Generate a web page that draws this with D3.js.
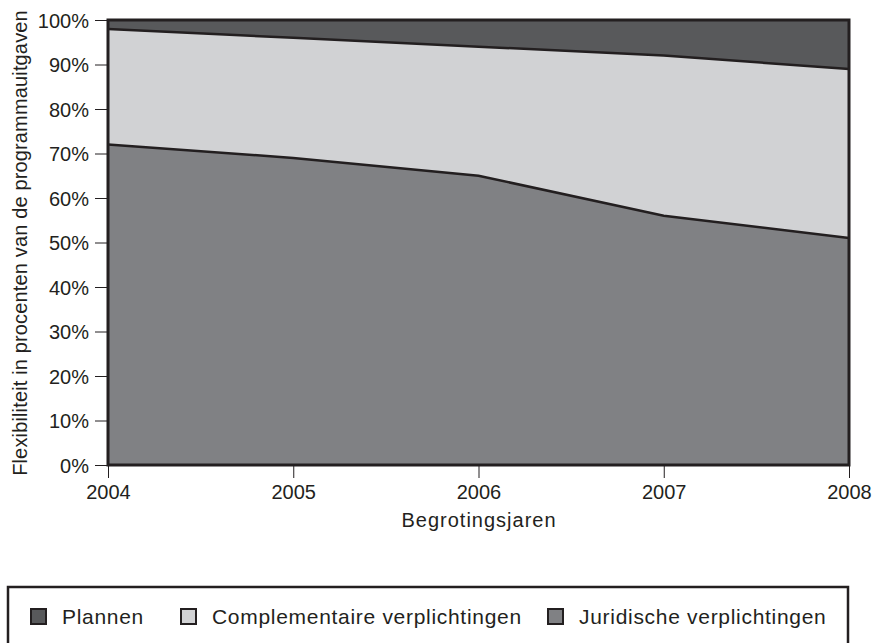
<!DOCTYPE html>
<html><head><meta charset="utf-8">
<script src="https://cdn.jsdelivr.net/npm/d3@7"></script>
<style>body{margin:0;background:#fff;} text{font-family:"Liberation Sans",Arial,sans-serif;fill:#231f20;}</style>
</head><body>
<svg id="c" width="875" height="643"></svg>
<script>
const years = [2004, 2005, 2006, 2007, 2008];
const juridische = [72, 69, 65, 56, 51];
const complementaire = [26, 27, 29, 36, 38];
const plannen = [2, 4, 6, 8, 11];
const seriesNames = ["Plannen", "Complementaire verplichtingen", "Juridische verplichtingen"];
const colors = {"Plannen":"#58595b","Complementaire verplichtingen":"#d1d2d4","Juridische verplichtingen":"#808184"};
const yTicks = [0,10,20,30,40,50,60,70,80,90,100];

const svg = d3.select("#c");
const L=108, R=849, T=20, B=465;
const x = d3.scaleLinear().domain([2004,2008]).range([L,R]);
const y = d3.scaleLinear().domain([0,100]).range([B,T]);

const rows = years.map((yr,i)=>({year:yr,"Juridische verplichtingen":juridische[i],"Complementaire verplichtingen":complementaire[i],"Plannen":plannen[i]}));
const stack = d3.stack().keys(["Juridische verplichtingen","Complementaire verplichtingen","Plannen"])(rows);
const area = d3.area().x(d=>x(d.data.year)).y0(d=>y(d[0])).y1(d=>y(d[1]));
svg.append("g").selectAll("path").data(stack).join("path")
  .attr("d",area).attr("fill",d=>colors[d.key]);
const line = d3.line().x(d=>x(d.data.year)).y(d=>y(d[1]));
svg.append("g").selectAll("path").data(stack.slice(0,2)).join("path")
  .attr("d",line).attr("fill","none").attr("stroke","#231f20").attr("stroke-width",2.5);
svg.append("rect").attr("x",L).attr("y",T).attr("width",R-L).attr("height",B-T)
  .attr("fill","none").attr("stroke","#231f20").attr("stroke-width",3);

const ya = svg.append("g").attr("transform",`translate(${L},0)`)
  .call(d3.axisLeft(y).tickValues(yTicks).tickFormat(d=>d+"%").tickSize(13).tickPadding(6));
ya.select(".domain").remove();
ya.selectAll("line").attr("stroke","#231f20").attr("stroke-width",1);
ya.selectAll("text").style("font-size","20px").style("font-family","'Liberation Sans',Arial,sans-serif").attr("dy","0.35em");

const xa = svg.append("g").attr("transform",`translate(0,${B})`)
  .call(d3.axisBottom(x).tickValues(years).tickFormat(d3.format("d")).tickSize(13).tickPadding(7));
xa.select(".domain").remove();
xa.selectAll("line").attr("stroke","#231f20").attr("stroke-width",1);
xa.selectAll("text").style("font-size","20px").style("font-family","'Liberation Sans',Arial,sans-serif");

svg.append("text").attr("x",479).attr("y",527).attr("text-anchor","middle").style("font-size","20px").style("letter-spacing","1px").text("Begrotingsjaren");
svg.append("text").attr("transform","translate(27,243) rotate(-90)").attr("text-anchor","middle").style("font-size","20px").style("letter-spacing","0.15px").text("Flexibiliteit in procenten van de programmauitgaven");

// legend
svg.append("rect").attr("x",8).attr("y",587).attr("width",840).attr("height",60).attr("fill","none").attr("stroke","#231f20").attr("stroke-width",2.5);
const legX = [31, 181, 548];
const lg = svg.append("g").selectAll("g").data(seriesNames).join("g")
  .attr("transform",(d,i)=>`translate(${legX[i]},609)`);
lg.append("rect").attr("width",15).attr("height",15).attr("fill",d=>colors[d]).attr("stroke","#231f20").attr("stroke-width",2);
lg.append("text").attr("x",31).attr("y",15).style("font-size","21px").style("letter-spacing","0.7px").text(d=>d);
</script>
</body></html>
